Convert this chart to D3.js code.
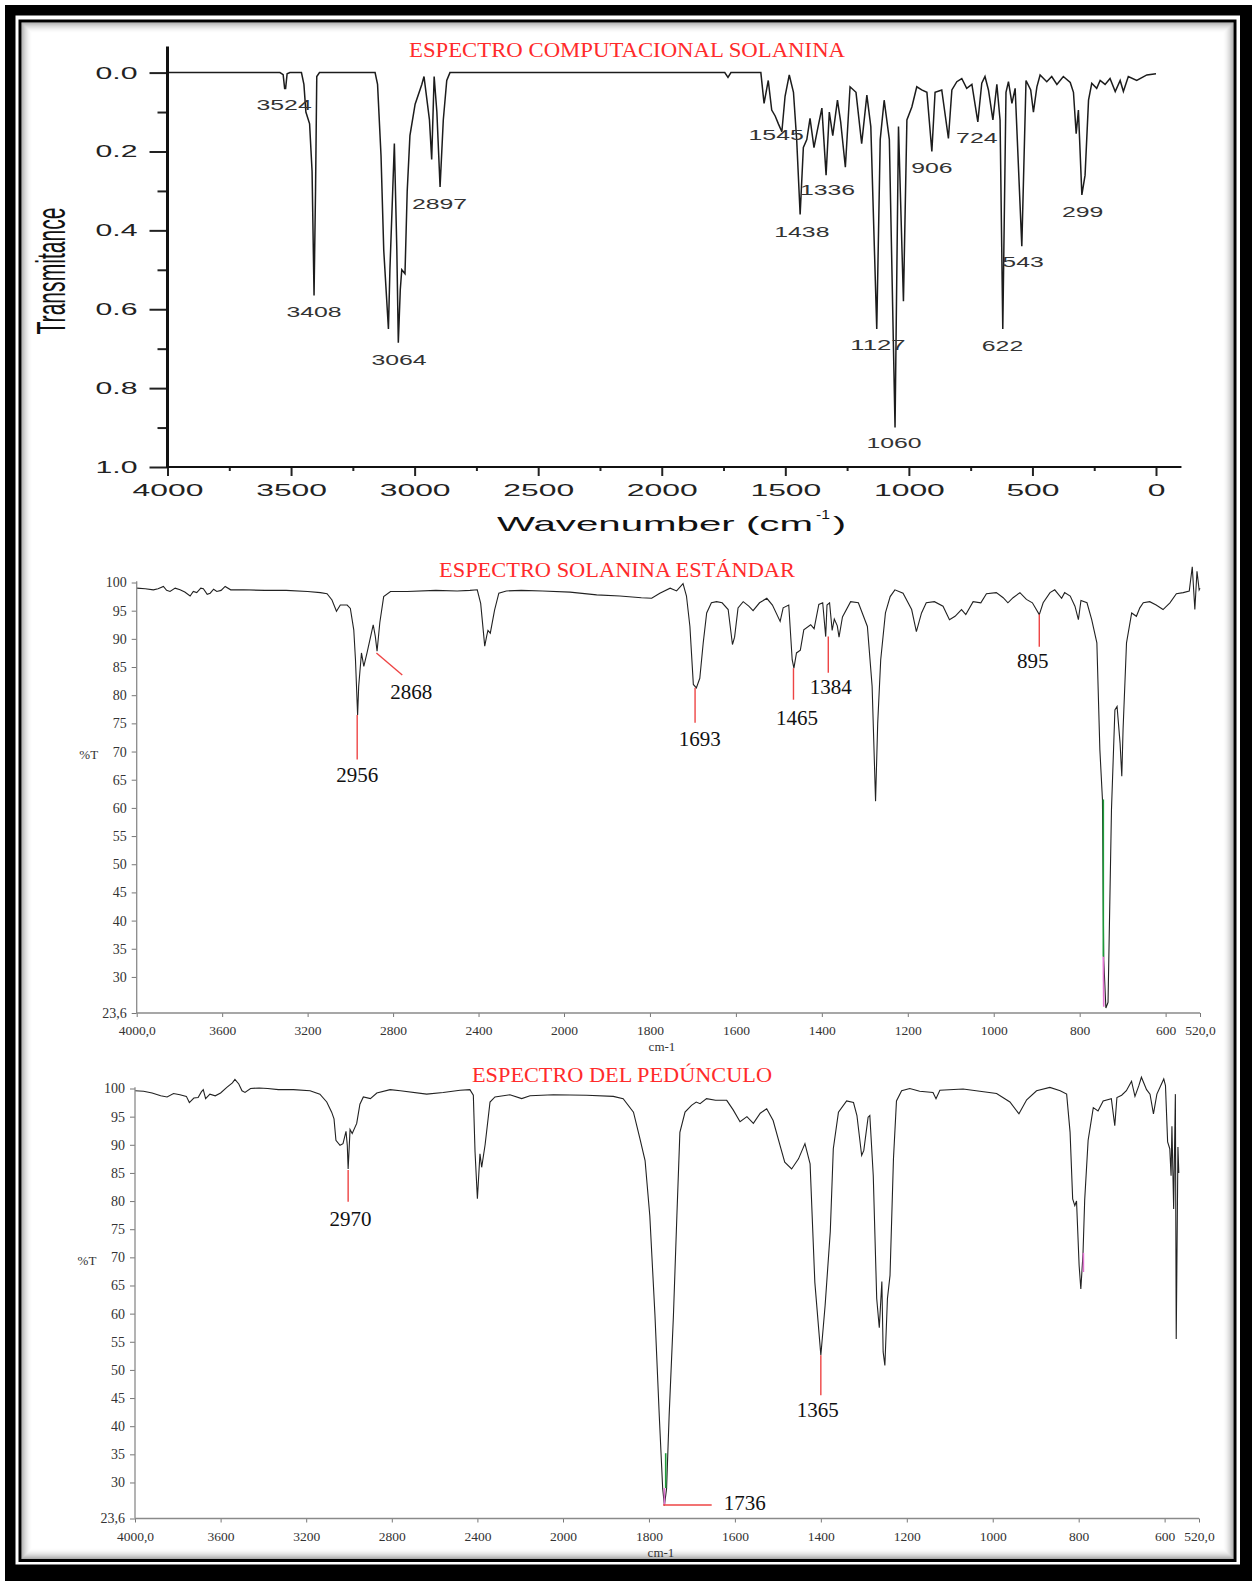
<!DOCTYPE html>
<html><head><meta charset="utf-8">
<script src="https://cdn.jsdelivr.net/npm/d3@7"></script>
<style>body{margin:0;background:#fff}svg{display:block}</style>
</head><body>
<svg id="c" width="1252" height="1581"></svg>
<script>
// ---------- DATA ----------
// Panel 1: computed spectrum (wavenumber cm-1, transmitance)
const compTitle = "ESPECTRO COMPUTACIONAL SOLANINA";
const compTicksX = [4000,3500,3000,2500,2000,1500,1000,500,0];
const compMinorX = [3750,3250,2750,2250,1750,1250,750,250];
const compTicksY = [0,0.2,0.4,0.6,0.8,1.0];
const compMinorY = [0.1,0.3,0.5,0.7,0.9];
const computedSpectrum = [[4000,0],[3545,0],[3532,0.005],[3526,0.04],[3522,0.04],[3516,0.003],[3505,0],[3458,0],[3448,0.03],[3440,0.1],[3425,0.13],[3415,0.25],[3407,0.565],[3401,0.3],[3396,0.01],[3385,0],[3160,0],[3150,0.03],[3136,0.21],[3125,0.45],[3106,0.65],[3100,0.5],[3082,0.18],[3072,0.45],[3066,0.685],[3058,0.55],[3052,0.5],[3039,0.51],[3030,0.3],[3019,0.16],[2998,0.08],[2971,0.03],[2962,0.01],[2940,0.12],[2931,0.22],[2921,0.01],[2910,0.1],[2897,0.29],[2884,0.12],[2870,0.02],[2857,0],[1745,0],[1732,0.012],[1720,0],[1599,0],[1586,0.078],[1569,0.02],[1555,0.095],[1541,0.11],[1528,0.13],[1514,0.15],[1501,0.06],[1484,0.006],[1467,0.05],[1454,0.17],[1440,0.36],[1427,0.19],[1413,0.17],[1400,0.116],[1384,0.19],[1370,0.145],[1352,0.09],[1335,0.26],[1322,0.10],[1308,0.16],[1289,0.07],[1276,0.125],[1257,0.24],[1238,0.036],[1214,0.05],[1191,0.18],[1170,0.057],[1154,0.137],[1130,0.65],[1116,0.17],[1100,0.07],[1079,0.17],[1056,0.90],[1042,0.137],[1022,0.58],[1008,0.12],[988,0.087],[968,0.036],[948,0.044],[927,0.05],[907,0.20],[894,0.05],[867,0.044],[840,0.167],[826,0.044],[806,0.023],[786,0.015],[766,0.04],[745,0.03],[721,0.125],[705,0.027],[692,0.01],[678,0.044],[660,0.12],[644,0.03],[631,0.12],[620,0.65],[607,0.05],[597,0.023],[583,0.078],[570,0.04],[543,0.44],[526,0.02],[507,0.044],[496,0.10],[482,0.036],[469,0.006],[442,0.023],[422,0.01],[401,0.03],[375,0.01],[347,0.025],[334,0.05],[323,0.155],[314,0.095],[300,0.31],[287,0.26],[273,0.07],[260,0.027],[240,0.04],[226,0.02],[206,0.03],[186,0.015],[165,0.048],[145,0.02],[132,0.048],[112,0.01],[78,0.02],[37,0.006],[0,0.003]];
const compPeakLabels = ["3524","3408","3064","2897","1545","1438","1336","1127","1060","906","724","622","543","299"];
const compPeakLabelAt = [[3528,0.082],[3407,0.606],[3063,0.729],[2899,0.334],[1537,0.158],[1433,0.403],[1329,0.298],[1125,0.691],[1060,0.939],[907,0.242],[725,0.166],[621,0.693],[538,0.479],[297,0.353]];

// Panels 2 & 3: measured spectra (%T)
const irTicksX = [4000,3600,3200,2800,2400,2000,1800,1600,1400,1200,1000,800,600,520];
const irTicksY = [100,95,90,85,80,75,70,65,60,55,50,45,40,35,30,23.6];

const stdTitle = "ESPECTRO SOLANINA ESTÁNDAR";
const standardSpectrum = [[4000,99.0],[3960,98.9],[3922,98.7],[3900,98.9],[3875,99.3],[3860,98.6],[3844,98.4],[3820,99.0],[3797,98.7],[3775,98.3],[3750,97.6],[3735,98.4],[3719,98.2],[3700,99.0],[3688,98.9],[3670,97.9],[3656,98.1],[3640,98.8],[3625,98.4],[3605,98.6],[3586,99.3],[3560,98.7],[3500,98.7],[3400,98.6],[3300,98.6],[3200,98.4],[3140,98.2],[3109,98.0],[3086,96.9],[3065,94.9],[3047,96.0],[3015,96.0],[3000,95.4],[2984,91.6],[2976,86.3],[2966,76.5],[2961,81.6],[2948,87.5],[2937,85.1],[2922,87.5],[2893,92.5],[2883,90.4],[2875,87.8],[2862,92.9],[2844,97.5],[2812,98.4],[2734,98.4],[2600,98.6],[2500,98.5],[2440,98.6],[2406,98.7],[2390,96.3],[2371,88.7],[2362,90.5],[2356,91.5],[2345,91.0],[2325,95.1],[2305,98.1],[2270,98.5],[2200,98.6],[2100,98.5],[1986,98.3],[1924,97.8],[1870,97.6],[1820,97.3],[1796,97.2],[1777,98.1],[1753,99.0],[1738,98.5],[1723,99.8],[1715,97.6],[1707,92.2],[1699,81.9],[1692,81.3],[1684,83.0],[1676,89.3],[1668,94.6],[1657,96.4],[1645,96.6],[1632,96.4],[1618,95.2],[1608,89.0],[1603,90.3],[1595,95.5],[1583,96.6],[1570,95.8],[1560,95.0],[1545,96.4],[1528,97.2],[1515,96.0],[1497,93.1],[1490,95.5],[1477,96.0],[1469,86.3],[1465,84.8],[1459,87.5],[1450,88.0],[1442,91.6],[1426,92.5],[1418,91.8],[1407,96.1],[1398,96.4],[1391,90.4],[1388,96.0],[1382,96.4],[1376,91.5],[1371,93.5],[1364,92.3],[1360,90.3],[1352,93.9],[1333,96.6],[1315,96.4],[1294,92.2],[1283,81.6],[1275,61.2],[1270,75.0],[1263,86.3],[1252,94.6],[1241,97.5],[1230,98.7],[1211,98.1],[1191,95.2],[1180,91.3],[1168,94.6],[1157,96.4],[1138,96.6],[1118,95.8],[1103,93.4],[1090,94.0],[1075,95.2],[1065,94.3],[1048,96.6],[1030,96.4],[1017,98.0],[994,98.2],[978,97.3],[967,96.4],[955,97.3],[939,98.2],[924,97.0],[910,96.4],[894,94.3],[885,96.4],[869,98.2],[858,98.7],[842,97.2],[835,98.2],[822,97.6],[811,95.8],[803,93.4],[797,96.8],[783,96.4],[772,93.4],[760,89.3],[753,70.3],[747,61.5],[744,33.0],[739,24.5],[734,25.5],[726,59.7],[718,77.4],[713,78.0],[706,71.5],[702,65.6],[699,74.0],[691,89.3],[679,94.6],[668,94.0],[660,95.5],[652,96.4],[637,96.6],[622,96.0],[606,95.2],[590,96.4],[575,98.0],[559,98.2],[545,98.5],[538,102.8],[532,95.2],[527,102.0],[522,98.7],[520,99.0]];
const stdPeakLabels = ["2956","2868","1693","1465","1384","895"];
const stdPeakLabelAt = [[2968,65.9],[2715,80.7],[1684,72.2],[1458,76.1],[1379,81.6],[909,86.2]];
const stdPeakLines = [[2968,76.5,2968,68.6],[2878,87.5,2757,83.6],[1695,81.3,1695,75.1],[1466,84.8,1466,79.2],[1385,90.4,1385,84.0],[894,94.3,894,88.6]];
const stdCursorGreen = [[745,61.5,745,33.6]];
const stdCursorPink = [[745,33.6,744,24.7]];

const pedTitle = "ESPECTRO DEL PEDÚNCULO";
const peduncleSpectrum = [[4000,99.6],[3960,99.5],[3920,99.2],[3880,98.7],[3850,98.5],[3820,99.1],[3790,98.9],[3760,98.6],[3746,97.5],[3725,98.3],[3705,98.4],[3690,99.4],[3681,99.8],[3670,98.2],[3650,99.0],[3625,98.7],[3600,99.2],[3571,100.2],[3545,101.0],[3533,101.6],[3515,100.8],[3500,99.6],[3486,99.3],[3460,100.0],[3420,100.1],[3380,100.0],[3330,99.8],[3260,99.8],[3182,99.6],[3136,99.0],[3104,97.6],[3081,95.8],[3070,94.6],[3061,90.8],[3042,89.9],[3028,90.2],[3014,92.4],[3008,89.9],[3004,85.7],[2995,92.7],[2985,92.0],[2964,93.8],[2949,97.2],[2933,98.5],[2900,98.2],[2870,99.2],[2808,99.8],[2760,99.6],[2637,99.0],[2560,99.3],[2481,99.7],[2435,99.8],[2419,98.8],[2411,88.7],[2400,80.4],[2388,88.4],[2380,86.0],[2364,90.0],[2341,97.6],[2318,98.5],[2248,98.9],[2193,98.2],[2154,98.7],[2045,98.9],[1945,98.8],[1883,98.6],[1860,98.2],[1836,95.8],[1821,91.1],[1809,87.2],[1798,77.4],[1786,59.7],[1776,41.9],[1768,28.9],[1764,25.9],[1759,28.9],[1753,41.9],[1743,59.7],[1735,77.4],[1728,92.2],[1716,95.8],[1701,97.0],[1690,97.6],[1681,97.3],[1666,98.2],[1645,97.9],[1619,97.9],[1604,96.2],[1588,94.1],[1572,95.0],[1557,93.8],[1541,95.6],[1526,96.4],[1511,94.3],[1495,89.9],[1484,86.9],[1468,85.7],[1452,87.5],[1437,90.2],[1425,86.6],[1414,65.6],[1400,52.6],[1390,61.5],[1378,74.6],[1371,89.3],[1359,95.8],[1340,97.8],[1324,97.5],[1316,95.2],[1305,88.1],[1300,89.0],[1290,94.9],[1286,95.2],[1278,84.5],[1270,62.7],[1264,57.5],[1258,65.7],[1255,53.2],[1251,50.8],[1245,62.7],[1239,66.8],[1231,87.5],[1224,97.8],[1212,99.6],[1193,100.0],[1170,99.5],[1139,99.3],[1132,98.2],[1123,99.7],[1069,99.9],[1030,99.5],[991,99.1],[960,97.6],[939,95.5],[921,98.0],[898,99.6],[867,100.2],[843,99.6],[828,99.0],[820,92.2],[814,80.4],[809,79.2],[805,80.0],[799,68.6],[795,64.4],[790,70.5],[786,80.2],[778,90.8],[766,96.6],[755,96.0],[743,97.8],[724,98.2],[716,93.4],[711,98.4],[700,98.8],[689,99.6],[677,101.3],[669,98.6],[660,100.5],[654,102.0],[642,99.8],[634,99.0],[626,95.5],[618,99.0],[602,101.7],[598,100.5],[593,90.5],[588,89.3],[585,84.5],[583,93.3],[579,78.6],[575,99.0],[573,55.5],[569,89.6],[567,85.0]];
const pedPeakLabels = ["2970","1736","1365"];
const pedPeakLabelAt = [[2993,76.8],[1577,26.5],[1407,42.9]];
const pedPeakLines = [[3004,85.5,3004,79.9],[1767,26.0,1654,26.0],[1400,52.6,1400,45.5]];
const pedCursorGreen = [[1761,35.2,1761,29.0]];
const pedCursorPink = [[1764,29.0,1764,26.0],[789,70.8,789,67.4]];

// ---------- DRAWING ----------
const svg = d3.select('#c');
const RED = '#ff2b2b';
const SERIF = '"Liberation Serif", "Times New Roman", serif';
const SANS = '"Liberation Sans", Arial, sans-serif';

// frame
svg.append('rect').attr('x',5).attr('y',5).attr('width',1247).attr('height',1576).attr('fill','#000');
svg.append('rect').attr('x',15.5).attr('y',15.5).attr('width',1224.5).attr('height',1549).attr('fill','#fff');
svg.append('rect').attr('x',18.5).attr('y',19.5).attr('width',1218).attr('height',1542.5).attr('fill','#000');
svg.append('rect').attr('x',21.5).attr('y',22.5).attr('width',1212).attr('height',1536.5).attr('fill','#fff');
for (let i = 0; i < 11; i++) {
  svg.append('rect').attr('x',22+i).attr('y',23+i).attr('width',1211-2*i).attr('height',1535.5-2*i)
    .attr('fill','none').attr('stroke','#000').attr('stroke-opacity',0.32*Math.pow(1-i/11,2));
}

// ----- Panel 1 -----
const xC = d3.scaleLinear().domain([4000,0]).range([167.5,1156]);
const yC = d3.scaleLinear().domain([0,1]).range([72.6,467]);
const g1 = svg.append('g');

g1.append('path').datum(computedSpectrum)
  .attr('d', d3.line().x(d=>xC(d[0])).y(d=>yC(d[1])))
  .attr('fill','none').attr('stroke','#1c1c1c').attr('stroke-width',1.5);

function styleAxis(sel, color, w){ sel.select('.domain').remove(); sel.selectAll('line').attr('stroke',color).attr('stroke-width',w); }

const axYMinor = g1.append('g').attr('transform',`translate(${xC(4000)},0)`)
  .call(d3.axisLeft(yC).tickValues(compMinorY).tickSize(10).tickFormat(''));
styleAxis(axYMinor,'#222',2);
const axY = g1.append('g').attr('transform',`translate(${xC(4000)},0)`)
  .call(d3.axisLeft(yC).tickValues(compTicksY).tickSize(18).tickPadding(12).tickFormat(d3.format('.1f')));
styleAxis(axY,'#222',2);
axY.selectAll('text').attr('font-family',SANS).attr('font-size',17).attr('fill','#222')
  .attr('textLength',42).attr('lengthAdjust','spacingAndGlyphs');

const axXMinor = g1.append('g').attr('transform',`translate(0,${yC(1)})`)
  .call(d3.axisBottom(xC).tickValues(compMinorX).tickSize(4).tickFormat(''));
styleAxis(axXMinor,'#222',2);
const axX = g1.append('g').attr('transform',`translate(0,${yC(1)})`)
  .call(d3.axisBottom(xC).tickValues(compTicksX).tickSize(9).tickPadding(8).tickFormat(d3.format('d')));
styleAxis(axX,'#222',2);
axX.selectAll('text').attr('font-family',SANS).attr('font-size',17).attr('fill','#222')
  .attr('textLength',d=>String(d).length*17.7).attr('lengthAdjust','spacingAndGlyphs');

g1.append('line').attr('x1',xC(4000)).attr('x2',xC(-103)).attr('y1',yC(1)).attr('y2',yC(1))
  .attr('stroke','#111').attr('stroke-width',2.2);
g1.append('line').attr('x1',xC(4000)).attr('x2',xC(4000)).attr('y1',yC(-0.066)).attr('y2',yC(1)+1)
  .attr('stroke','#111').attr('stroke-width',3);

g1.selectAll('text.pk').data(compPeakLabels).join('text').attr('class','pk')
  .attr('x',(d,i)=>xC(compPeakLabelAt[i][0])).attr('y',(d,i)=>yC(compPeakLabelAt[i][1]))
  .attr('dy','0.36em').attr('text-anchor','middle')
  .attr('font-family',SANS).attr('font-size',14).attr('fill','#333')
  .attr('textLength',d=>d.length*13.8).attr('lengthAdjust','spacingAndGlyphs').text(d=>d);

g1.append('text').attr('x',627).attr('y',57).attr('text-anchor','middle')
  .attr('font-family',SERIF).attr('font-size',22).attr('fill',RED)
  .attr('textLength',436).attr('lengthAdjust','spacingAndGlyphs').text(compTitle);

g1.append('text').attr('transform','translate(65,271) rotate(-90)').attr('text-anchor','middle')
  .attr('font-family',SANS).attr('font-size',40).attr('fill','#111')
  .attr('textLength',127).attr('lengthAdjust','spacingAndGlyphs').text('Transmitance');

g1.append('text').attr('x',497).attr('y',531).attr('font-family',SANS).attr('font-size',21).attr('fill','#111')
  .attr('textLength',316).attr('lengthAdjust','spacingAndGlyphs').text('Wavenumber (cm');
g1.append('text').attr('x',816).attr('y',519).attr('font-family',SANS).attr('font-size',12).attr('fill','#111')
  .attr('textLength',14).attr('lengthAdjust','spacingAndGlyphs').text('-1');
g1.append('text').attr('x',833).attr('y',531).attr('font-family',SANS).attr('font-size',21).attr('fill','#111')
  .attr('textLength',13).attr('lengthAdjust','spacingAndGlyphs').text(')');

// ----- Panels 2 & 3 -----
function irPanel(cfg){
  const {x, y, data, title, titleX, titleY, titleW, labels, labelAt, lines, green, pink, axisPad} = cfg;
  const g = svg.append('g');
  g.append('path').datum(data).attr('d', d3.line().x(d=>x(d[0])).y(d=>y(d[1])))
    .attr('fill','none').attr('stroke','#222').attr('stroke-width',1.1);

  const ay = g.append('g').attr('transform',`translate(${x(4000)},0)`)
    .call(d3.axisLeft(y).tickValues(irTicksY).tickSize(5).tickPadding(5)
      .tickFormat(d=> d===23.6 ? '23,6' : String(d)));
  styleAxis(ay,'#777',1);
  ay.selectAll('text').attr('font-family',SERIF).attr('font-size',14).attr('fill','#333');

  const ax = g.append('g').attr('transform',`translate(0,${y(23.6)})`)
    .call(d3.axisBottom(x).tickValues(irTicksX).tickSize(4).tickPadding(axisPad)
      .tickFormat(d=> (d===4000||d===520) ? d+',0' : String(d)));
  styleAxis(ax,'#777',1);
  ax.selectAll('text').attr('font-family',SERIF).attr('font-size',13.5).attr('fill','#333');

  g.append('line').attr('x1',x(4000)).attr('x2',x(4000)).attr('y1',y(100.2)).attr('y2',y(23.6))
    .attr('stroke','#8a8a8a').attr('stroke-width',1.3);
  g.append('line').attr('x1',x(4000)).attr('x2',x(520)).attr('y1',y(23.6)).attr('y2',y(23.6))
    .attr('stroke','#8a8a8a').attr('stroke-width',1.6);

  g.append('text').attr('x',x(4000)-48).attr('y',y(69.5)).attr('dy','0.35em').attr('text-anchor','middle')
    .attr('font-family',SERIF).attr('font-size',13).attr('fill','#333').text('%T');
  g.append('text').attr('x',x(1772)).attr('y',y(23.6)+38).attr('text-anchor','middle')
    .attr('font-family',SERIF).attr('font-size',13).attr('fill','#333').text('cm-1');

  g.selectAll('line.gc').data(green).join('line').attr('class','gc')
    .attr('x1',d=>x(d[0])).attr('y1',d=>y(d[1])).attr('x2',d=>x(d[2])).attr('y2',d=>y(d[3]))
    .attr('stroke','#1e9a3a').attr('stroke-width',1.6);
  g.selectAll('line.pc').data(pink).join('line').attr('class','pc')
    .attr('x1',d=>x(d[0])).attr('y1',d=>y(d[1])).attr('x2',d=>x(d[2])).attr('y2',d=>y(d[3]))
    .attr('stroke','#e070d0').attr('stroke-width',1.6);
  g.selectAll('line.pl').data(lines).join('line').attr('class','pl')
    .attr('x1',d=>x(d[0])).attr('y1',d=>y(d[1])).attr('x2',d=>x(d[2])).attr('y2',d=>y(d[3]))
    .attr('stroke','#ee4444').attr('stroke-width',1.4);
  g.selectAll('text.pk').data(labels).join('text').attr('class','pk')
    .attr('x',(d,i)=>x(labelAt[i][0])).attr('y',(d,i)=>y(labelAt[i][1])).attr('dy','0.35em')
    .attr('text-anchor','middle').attr('font-family',SERIF).attr('font-size',21).attr('fill','#111').text(d=>d);

  g.append('text').attr('x',titleX).attr('y',titleY).attr('text-anchor','middle')
    .attr('font-family',SERIF).attr('font-size',22).attr('fill',RED)
    .attr('textLength',titleW).attr('lengthAdjust','spacingAndGlyphs').text(title);
}

irPanel({
  x: d3.scaleLinear().domain([4000,2000,520]).range([136.7,564,1200]),
  y: d3.scaleLinear().domain([23.6,100]).range([1013,582.5]),
  data: standardSpectrum, title: stdTitle, titleX: 617, titleY: 577, titleW: 356,
  labels: stdPeakLabels, labelAt: stdPeakLabelAt, lines: stdPeakLines,
  green: stdCursorGreen, pink: stdCursorPink, axisPad: 8.5
});
irPanel({
  x: d3.scaleLinear().domain([4000,2000,520]).range([135,563,1199]),
  y: d3.scaleLinear().domain([23.6,100]).range([1518.5,1088.5]),
  data: peduncleSpectrum, title: pedTitle, titleX: 622, titleY: 1082, titleW: 300,
  labels: pedPeakLabels, labelAt: pedPeakLabelAt, lines: pedPeakLines,
  green: pedCursorGreen, pink: pedCursorPink, axisPad: 9
});
</script>
</body></html>
